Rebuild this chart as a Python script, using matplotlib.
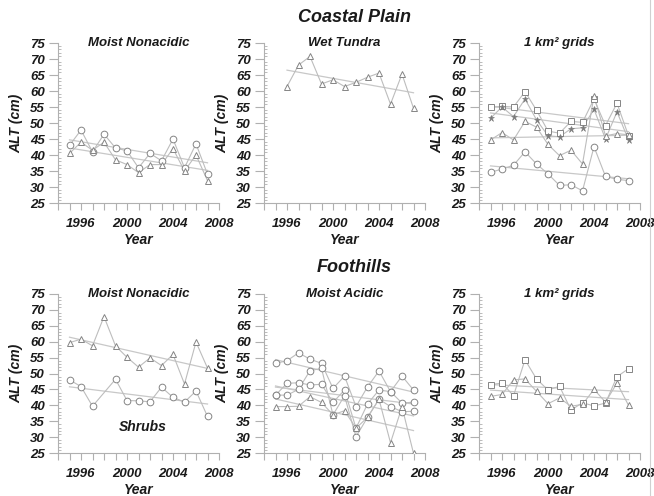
import numpy as np
import matplotlib
matplotlib.use('Agg')
import matplotlib.pyplot as plt
from matplotlib.lines import Line2D
from matplotlib.ticker import MultipleLocator

plt.rcParams['font.family'] = ['Liberation Sans', 'DejaVu Sans']
plt.rcParams['font.weight'] = 'bold'
plt.rcParams['font.style'] = 'italic'
plt.rcParams['axes.labelweight'] = 'bold'

# ---------------- data ----------------
years = list(range(1995, 2008))
years_wt = list(range(1996, 2008))
years_no98 = [1995, 1996, 1997, 1999, 2000, 2001, 2002, 2003, 2004, 2005, 2006, 2007]

# Coastal Plain - Moist Nonacidic
cp_mna_circ = [43.0, 47.8, 41.0, 46.5, 42.2, 41.3, 36.0, 40.5, 38.2, 45.0, 36.0, 43.5, 34.0]
cp_mna_tri = [40.5, 44.0, 41.5, 44.0, 38.5, 37.0, 34.5, 37.0, 37.0, 42.0, 35.0, 40.0, 32.0]

# Coastal Plain - Wet Tundra
cp_wt_tri = [61.4, 68.1, 70.8, 62.2, 63.5, 61.4, 62.7, 64.3, 65.6, 55.9, 65.3, 54.6]

# Coastal Plain - 1 km2 grids
cp_grid_sq = [54.9, 55.2, 55.0, 59.8, 54.0, 47.5, 46.8, 50.5, 50.2, 57.5, 49.2, 56.2, 46.0]
cp_grid_star = [51.5, 55.0, 52.0, 57.5, 51.0, 46.0, 45.7, 48.2, 48.5, 54.3, 45.0, 53.5, 44.7]
cp_grid_tri = [44.7, 47.0, 44.7, 50.5, 48.7, 43.3, 39.8, 41.5, 37.2, 58.5, 46.0, 46.7, 46.3]
cp_grid_circ = [34.6, 35.6, 36.8, 41.0, 37.2, 34.1, 30.5, 30.7, 28.8, 42.6, 33.3, 32.4, 32.0]

# Foothills - Moist Nonacidic
fh_mna_tri = [59.7, 60.8, 58.7, 67.9, 58.7, 55.1, 52.0, 54.9, 52.5, 56.0, 46.7, 59.9, 51.7]
fh_shrub_circ = [48.0, 45.9, 39.7, 48.2, 41.5, 41.4, 41.1, 45.7, 42.5, 41.0, 44.5, 36.5]

# Foothills - Moist Acidic
fh_ma_circ_a = [53.2, 54.0, 56.5, 54.5, 53.2, 45.3, 49.2, 39.6, 45.8, 50.8, 44.3, 49.2, 44.8]
fh_ma_circ_b = [43.2, 46.9, 47.1, 46.4, 46.6, 40.9, 44.8, 32.8, 40.4, 44.8, 44.3, 40.7, 41.0]
fh_ma_circ_c = [43.2, 43.2, 45.0, 50.9, 51.6, 37.0, 43.0, 30.1, 36.2, 41.9, 39.6, 38.0, 38.1]
fh_ma_tri = [39.6, 39.6, 39.7, 42.7, 40.9, 37.0, 38.3, 32.8, 36.2, 41.9, 28.2, 39.5, 24.9]

# Foothills - 1 km2 grids
fh_grid_sq = [46.5, 47.0, 43.0, 54.3, 48.3, 44.8, 46.0, 38.5, 40.8, 39.8, 40.7, 49.0, 51.5]
fh_grid_tri = [42.8, 43.4, 48.0, 48.3, 44.4, 40.5, 42.3, 39.7, 40.3, 45.0, 41.0, 47.0, 40.0]

panel_titles = ['Moist Nonacidic', 'Wet Tundra', '1 km\u00b2 grids',
                'Moist Nonacidic', 'Moist Acidic', '1 km\u00b2 grids']
row_titles = ['Coastal Plain', 'Foothills']
x_ticks = [1996, 2000, 2004, 2008]
y_ticks = list(range(25, 80, 5))

panels = [
    [(years, cp_mna_circ, 'o'), (years, cp_mna_tri, '^')],
    [(years_wt, cp_wt_tri, '^')],
    [(years, cp_grid_sq, 's'), (years, cp_grid_star, '*'),
     (years, cp_grid_tri, '^'), (years, cp_grid_circ, 'o')],
    [(years, fh_mna_tri, '^'), (years_no98, fh_shrub_circ, 'o')],
    [(years, fh_ma_circ_a, 'o'), (years, fh_ma_circ_b, 'o'),
     (years, fh_ma_circ_c, 'o'), (years, fh_ma_tri, '^')],
    [(years, fh_grid_sq, 's'), (years, fh_grid_tri, '^')],
]

# ---------------- figure ----------------
W, H = 654, 496
fig = plt.figure(figsize=(W / 100, H / 100), dpi=100)

col_left = [58, 264, 479]
ax_w = 161
row_top = [43, 294]
row_bot = [203, 453]

line_c = '#bdbdbd'
trend_c = '#c8c8c8'
mk_c = '#858585'
spine_c = '#b0b0b0'
txt_c = '#1a1a1a'

for i, series in enumerate(panels):
    r, c = divmod(i, 3)
    left = col_left[c] / W
    bottom = 1 - row_bot[r] / H
    height = (row_bot[r] - row_top[r]) / H
    ax = fig.add_axes([left, bottom, ax_w / W, height])
    ax.set_xlim(1994, 2008)
    ax.set_ylim(25, 75)
    for s in ['top', 'right']:
        ax.spines[s].set_visible(False)
    for s in ['left', 'bottom']:
        ax.spines[s].set_color(spine_c)
        ax.spines[s].set_linewidth(0.8)

    for xs, ys, mk in series:
        xs = np.array(xs, dtype=float)
        ys = np.array(ys, dtype=float)
        k, b = np.polyfit(xs, ys, 1)
        ax.plot([xs[0], xs[-1]], [k * xs[0] + b, k * xs[-1] + b],
                color=trend_c, lw=0.9, zorder=1)
        ax.plot(xs, ys, color=line_c, lw=0.8, zorder=2)
        if mk == '*':
            ax.plot(xs, ys, ls='none', marker='*', ms=5, mfc='#7a7a7a',
                    mec='#7a7a7a', mew=0.4, zorder=3)
        else:
            ms = 4.8 if mk == 'o' else 4.6
            ax.plot(xs, ys, ls='none', marker=mk, ms=ms, mfc='white',
                    mec=mk_c, mew=0.7, zorder=3)

    ax.set_xticks(x_ticks)
    ax.xaxis.set_minor_locator(MultipleLocator(1))
    ax.set_yticks(y_ticks)
    ax.yaxis.set_minor_locator(MultipleLocator(1))
    ax.tick_params(axis='x', which='both', direction='out', length=5,
                   width=0.8, color=spine_c, pad=6, labelsize=9.5,
                   labelcolor=txt_c)
    ax.tick_params(axis='y', which='major', direction='out', length=6.5,
                   width=0.8, color=spine_c, pad=3, labelsize=9.5,
                   labelcolor=txt_c)
    ax.tick_params(axis='y', which='minor', direction='in', length=2,
                   width=0.6, color=spine_c)
    for lab in ax.get_xticklabels() + ax.get_yticklabels():
        lab.set_fontweight('bold')
        lab.set_fontstyle('italic')

    ax.set_ylabel('ALT (cm)', fontsize=10, color=txt_c, fontweight='bold')
    ax.yaxis.set_label_coords(-0.215, 0.5)
    ax.set_xlabel('Year', fontsize=10, color=txt_c, fontweight='bold')
    ax.xaxis.set_label_coords(0.5, -0.19)

    ax.text(0.5, 1.0, panel_titles[i], transform=ax.transAxes,
            ha='center', va='center', fontsize=9.5, color=txt_c,
            fontweight='bold')
    if i == 3:
        ax.text(2001.4, 33.2, 'Shrubs', ha='center', va='center',
                fontsize=10, color=txt_c, fontweight='bold')

fig.text(354 / W, 1 - 18 / H, row_titles[0], ha='center', va='center',
         fontsize=13, color=txt_c, fontweight='bold')
fig.text(354 / W, 1 - 267 / H, row_titles[1], ha='center', va='center',
         fontsize=13, color=txt_c, fontweight='bold')

fig.add_artist(Line2D([650 / W, 650 / W], [0, 1], color='#d0d0d0', lw=0.8))

fig.savefig('out.png', dpi=100)
